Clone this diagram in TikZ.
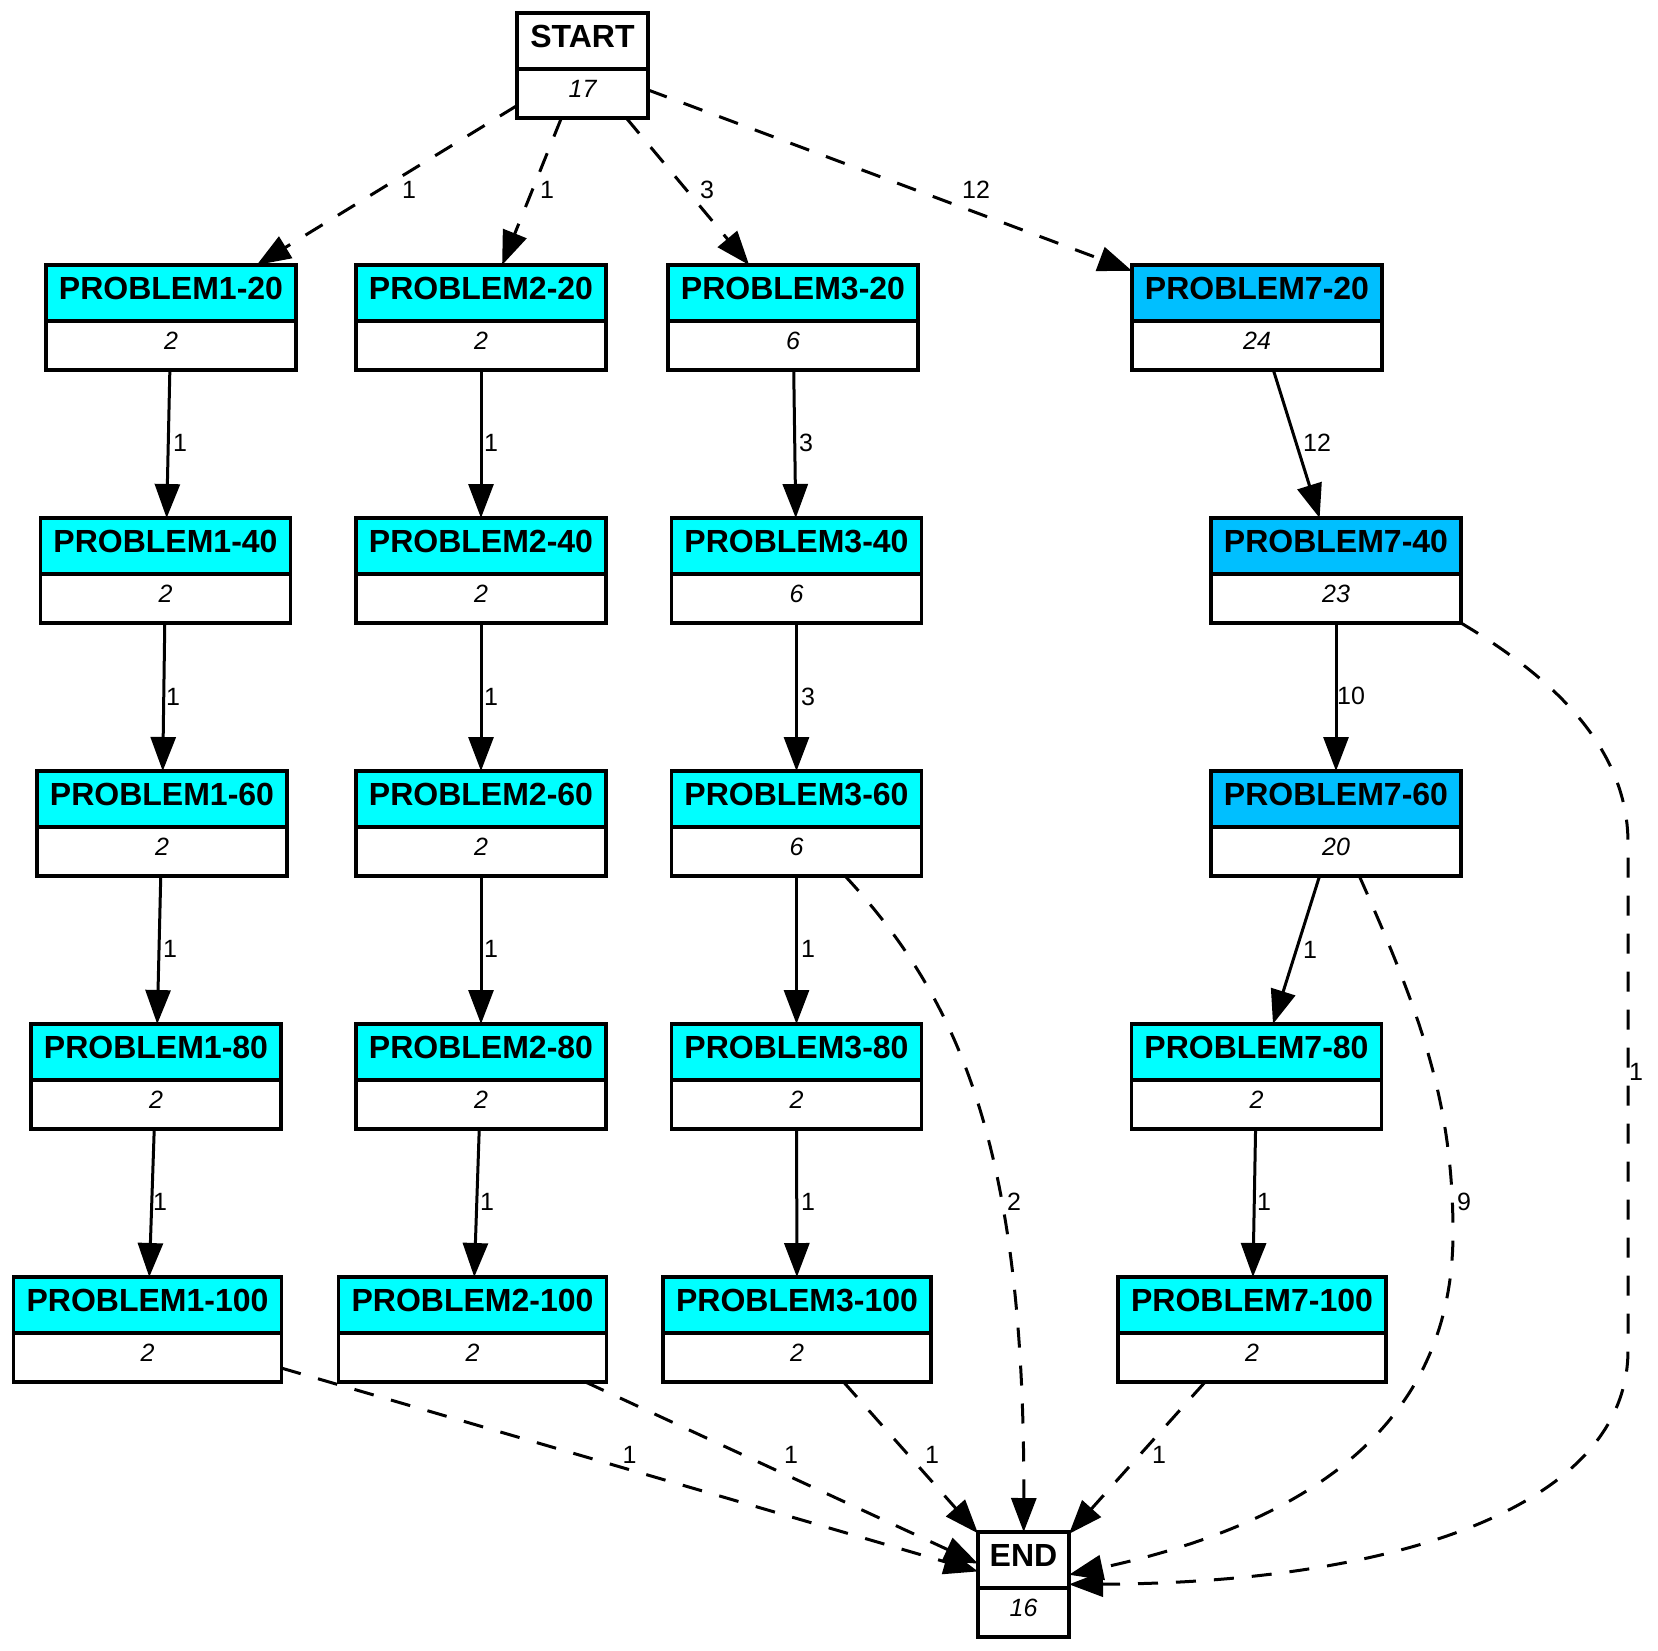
\documentclass[tikz,border=0pt]{standalone}
\usepackage{fontspec}
\setmainfont{Liberation Sans}
\usetikzlibrary{arrows.meta}
\definecolor{hdrcyan}{HTML}{00FFFF}
\definecolor{hdrsky}{HTML}{00BFFF}

\tikzset{
  boxline/.style={draw=black, line width=3.4pt},
  boxframe/.style={inner sep=0pt, outer sep=0pt, anchor=north, minimum height=105pt},
  titletext/.style={font=\bfseries\fontsize{32}{38}\selectfont, inner sep=0pt},
  counttext/.style={font=\itshape\fontsize{25}{30}\selectfont, inner sep=0pt},
  edgelabel/.style={font=\fontsize{25}{30}\selectfont, inner sep=0pt},
  flow/.style={line width=3pt, -{Triangle[length=34pt,width=25pt]}},
  skip/.style={flow, dash pattern=on 20pt off 18pt},
}

% #1 name, #2 centre x, #3 top y, #4 width, #5 header colour, #6 title, #7 count
\newcommand{\recbox}[7]{%
  \fill[#5] ({#2-#4/2},#3) rectangle ({#2+#4/2},{#3+56});
  \node[boxframe, minimum width=#4pt] (#1) at (#2,#3) {};
  \draw[boxline] (#1.north west) rectangle (#1.south east);
  \draw[boxline] ({#2-#4/2},{#3+56}) -- ({#2+#4/2},{#3+56});
  \node[titletext] (#1-title) at (#2,{#3+23.5}) {#6};
  \node[counttext] (#1-count) at (#2,{#3+76}) {#7};
}

\begin{document}
\begin{tikzpicture}[x=1pt, y=-1pt]
\fill[white] (0,0) rectangle (1658,1650);
\useasboundingbox (0,0) rectangle (1658,1650);

% boxes
\recbox{startbox}{582.5}{13}{131}{white}{START}{17}
\recbox{endbox}{1023.5}{1532}{91}{white}{END}{16}

\recbox{p1-20}{171}{265}{250}{hdrcyan}{PROBLEM1-20}{2}
\recbox{p1-40}{165.5}{518}{250}{hdrcyan}{PROBLEM1-40}{2}
\recbox{p1-60}{162}{771}{250}{hdrcyan}{PROBLEM1-60}{2}
\recbox{p1-80}{156}{1024}{250}{hdrcyan}{PROBLEM1-80}{2}
\recbox{p1-100}{147.5}{1277}{268}{hdrcyan}{PROBLEM1-100}{2}

\recbox{p2-20}{481}{265}{250}{hdrcyan}{PROBLEM2-20}{2}
\recbox{p2-40}{481}{518}{250}{hdrcyan}{PROBLEM2-40}{2}
\recbox{p2-60}{481}{771}{250}{hdrcyan}{PROBLEM2-60}{2}
\recbox{p2-80}{481}{1024}{250}{hdrcyan}{PROBLEM2-80}{2}
\recbox{p2-100}{472.5}{1277}{268}{hdrcyan}{PROBLEM2-100}{2}

\recbox{p3-20}{793}{265}{250}{hdrcyan}{PROBLEM3-20}{6}
\recbox{p3-40}{796.5}{518}{250}{hdrcyan}{PROBLEM3-40}{6}
\recbox{p3-60}{796.5}{771}{250}{hdrcyan}{PROBLEM3-60}{6}
\recbox{p3-80}{796.5}{1024}{250}{hdrcyan}{PROBLEM3-80}{2}
\recbox{p3-100}{797}{1277}{268}{hdrcyan}{PROBLEM3-100}{2}

\recbox{p7-20}{1257}{265}{250}{hdrsky}{PROBLEM7-20}{24}
\recbox{p7-40}{1336}{518}{250}{hdrsky}{PROBLEM7-40}{23}
\recbox{p7-60}{1336}{771}{250}{hdrsky}{PROBLEM7-60}{20}
\recbox{p7-80}{1256.5}{1024}{250}{hdrcyan}{PROBLEM7-80}{2}
\recbox{p7-100}{1252}{1277}{268}{hdrcyan}{PROBLEM7-100}{2}

% edges from START
\draw[skip] (startbox) -- (p1-20);
\draw[skip] (startbox) -- (p2-20);
\draw[skip] (startbox) -- (p3-20);
\draw[skip] (startbox) -- (p7-20);

% chains
\draw[flow] (p1-20) -- (p1-40);
\draw[flow] (p1-40) -- (p1-60);
\draw[flow] (p1-60) -- (p1-80);
\draw[flow] (p1-80) -- (p1-100);

\draw[flow] (p2-20) -- (p2-40);
\draw[flow] (p2-40) -- (p2-60);
\draw[flow] (p2-60) -- (p2-80);
\draw[flow] (p2-80) -- (p2-100);

\draw[flow] (p3-20) -- (p3-40);
\draw[flow] (p3-40) -- (p3-60);
\draw[flow] (p3-60) -- (p3-80);
\draw[flow] (p3-80) -- (p3-100);

\draw[flow] (p7-20) -- (p7-40);
\draw[flow] (p7-40) -- (p7-60);
\draw[flow] (p7-60) -- (p7-80);
\draw[flow] (p7-80) -- (p7-100);

% edges into END
\draw[skip] (p1-100) -- (endbox);
\draw[skip] (p2-100) -- (endbox);
\draw[skip] (p3-100) -- (endbox);
\draw[skip] (p7-100) -- (endbox);

\draw[skip] (p3-60) .. controls (960,1000) and (1025,1150) .. (endbox);

\coordinate (bend9) at (1453,1233);
\draw[skip] (p7-60) .. controls (1421.5,1016) and (1453,1103) .. (bend9)
  .. controls (1453,1423) and (1311,1522.5) .. (endbox);

\coordinate (railtop) at (1628,843);
\coordinate (railbot) at (1628,1350);
\draw[skip] (p7-40.south east) .. controls (1545,673) and (1628,743) .. (railtop)
  -- (railbot) .. controls (1628,1510) and (1387,1583) .. (endbox);

% edge labels
\node[edgelabel] (ls1) at (409,190) {1};
\node[edgelabel] (ls2) at (547,190) {1};
\node[edgelabel] (ls3) at (707,190) {3};
\node[edgelabel] (ls7) at (976,190) {12};

\node[edgelabel] (l1a) at (180,443) {1};
\node[edgelabel] (l1b) at (173,697) {1};
\node[edgelabel] (l1c) at (170,949) {1};
\node[edgelabel] (l1d) at (160,1202) {1};

\node[edgelabel] (l2a) at (491,443) {1};
\node[edgelabel] (l2b) at (491,697) {1};
\node[edgelabel] (l2c) at (491,949) {1};
\node[edgelabel] (l2d) at (487,1202) {1};

\node[edgelabel] (l3a) at (806,443) {3};
\node[edgelabel] (l3b) at (808,697) {3};
\node[edgelabel] (l3c) at (808,949) {1};
\node[edgelabel] (l3d) at (808,1202) {1};

\node[edgelabel] (l7a) at (1317,443) {12};
\node[edgelabel] (l7b) at (1351,696) {10};
\node[edgelabel] (l7c) at (1310,950) {1};
\node[edgelabel] (l7d) at (1264,1202) {1};

\node[edgelabel] (le1) at (629.5,1455) {1};
\node[edgelabel] (le2) at (791,1455) {1};
\node[edgelabel] (le3) at (932,1455) {1};
\node[edgelabel] (le7) at (1159,1455) {1};
\node[edgelabel] (le36) at (1014,1202) {2};
\node[edgelabel] (le76) at (1464,1202) {9};
\node[edgelabel] (le74) at (1636,1072) {1};
\end{tikzpicture}
\end{document}
